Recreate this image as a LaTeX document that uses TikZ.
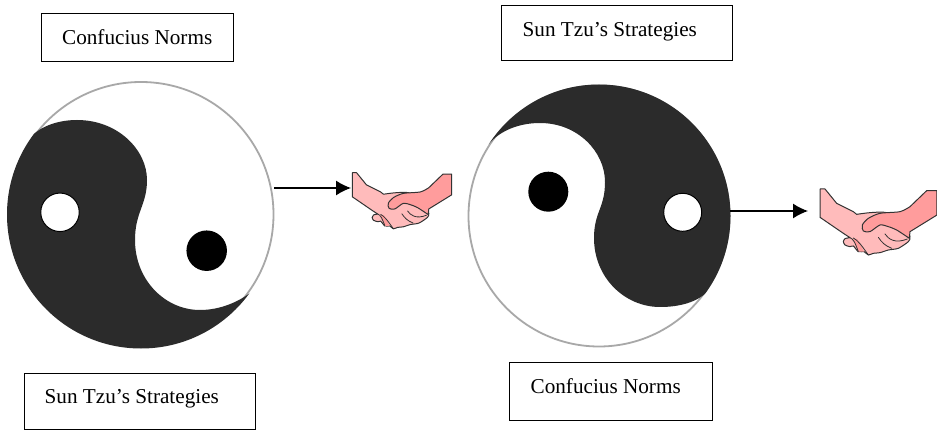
\documentclass[tikz,border=0pt]{standalone}
\usepackage{fontspec}
\setmainfont{Liberation Serif}
\usetikzlibrary{arrows.meta}
\definecolor{yyd}{HTML}{2B2B2B}
\definecolor{ring}{HTML}{A8A8A8}
\definecolor{skinl}{HTML}{FFBBBB}
\definecolor{skind}{HTML}{FF9C9C}
\definecolor{skinline}{HTML}{333333}
\tikzset{
  x=1pt,y=-1pt,
  labelbox/.style={draw=black,line width=1.3pt,inner sep=0pt,font=\fontsize{21.2pt}{24pt}\selectfont,anchor=north west},
  disc/.style={circle,minimum size=#1,inner sep=0pt},
  link/.style={-{Latex[length=15pt,width=15pt]},line width=1.3pt},
  skinA/.style={fill=skinl,draw=skinline,line width=1pt,line join=round},
  skinB/.style={fill=skind,draw=skinline,line width=1pt,line join=round},
  fingerline/.style={draw=skinline,line width=.8pt,line cap=round},
  pics/shake/.style={code={
    \begin{scope}[x=0.3333pt,y=-0.3333pt]
    \draw[skinA] (0,85) -- (0,0) -- (15,0) -- (50,43) -- (100,68) -- plot[smooth,tension=.4] coordinates {(110,76)(150,71)(200,71)(250,105)(270,143)(265,158)(235,178)(205,183)(180,191)(160,193)(145,198)(132,188)(115,188)(100,171)(90,173)(75,168)(70,158)(75,149)(90,146)} -- (70,133) -- cycle;
    \fill[skind] (100,150) -- (115,188) -- (132,188) -- (112,150) -- cycle;
    \draw[skinB] (320,5) -- (351,5) -- (351,78) -- (270,128) -- plot[smooth,tension=.45] coordinates {(268,148)(230,123)(205,113)(180,108)(150,128)(130,126)(127,108)(145,88)(180,73)(240,68)(270,53)} -- cycle;
    \draw[fingerline] (90,146) .. controls (100,150) and (105,160) .. (115,188);
    \draw[fingerline] (100,147) .. controls (115,155) and (125,170) .. (145,198);
    \draw[fingerline] (175,145) .. controls (185,160) and (195,170) .. (215,178);
    \draw[fingerline] (195,135) .. controls (205,150) and (225,165) .. (262,150);
    \end{scope}
  }}
}
\begin{document}
\begin{tikzpicture}
\useasboundingbox (0,0) rectangle (937,430);
\fill[white] (0,0) rectangle (937,430);
% left taijitu
\node[disc=265pt,draw=ring,line width=1.8pt] (ringL) at (141,214.5) {};
\begin{scope}
\clip (141,214.5) circle[radius=134];
\fill[yyd] (28,140) .. controls (38,127) and (57,120) .. (77,120)
  .. controls (118,120) and (147,150) .. (147,180)
  .. controls (147,205) and (135,212) .. (135,240)
  .. controls (135,280) and (165,310) .. (200,310)
  .. controls (220,310) and (238,302) .. (250,293)
  -- (300,400) -- (-20,400) -- (-20,100) -- cycle;
\end{scope}
\node[disc=38.5pt,draw=black,fill=white,line width=1pt] (dotLa) at (60,212.3) {};
\node[disc=40.5pt,fill=black] (dotLb) at (206.7,250.7) {};
% right taijitu
\node[disc=261pt,draw=ring,line width=1.8pt] (ringR) at (599,216) {};
\begin{scope}
\clip (599,216) circle[radius=131.5];
\fill[yyd] (488,145) .. controls (500,130) and (520,123) .. (540,123)
  .. controls (578,123) and (605,152) .. (605,182)
  .. controls (605,208) and (594,212) .. (594,238)
  .. controls (594,278) and (625,307) .. (660,307)
  .. controls (680,307) and (697,302) .. (707,292)
  -- (780,300) -- (780,20) -- (450,20) -- (450,120) -- cycle;
\end{scope}
\node[disc=38pt,draw=black,fill=white,line width=1pt] (dotRa) at (682.7,212.3) {};
\node[disc=40pt,fill=black] (dotRb) at (548.3,191.7) {};
% boxes
\node[labelbox,text height=31pt,text depth=17pt] (boxA) at (40.5,13) {\makebox[192.5pt][l]{\hspace*{21pt}Confucius Norms}};
\node[labelbox,text height=30pt,text depth=26pt] (boxB) at (24,373) {\makebox[231pt][l]{\hspace*{20pt}Sun Tzu’s Strategies}};
\node[labelbox,text height=31pt,text depth=24pt] (boxC) at (501,5) {\makebox[231pt][l]{\hspace*{21pt}Sun Tzu’s Strategies}};
\node[labelbox,text height=31pt,text depth=27pt] (boxD) at (509,362) {\makebox[203pt][l]{\hspace*{21pt}Confucius Norms}};
% hands
\pic (handL) at (352.3,172.7) [scale=.85] {shake};
\pic (handR) at (820,189) {shake};
\coordinate (endL) at (351,188);
\coordinate (endR) at (808,211);
\draw[link] (ringL.east |- endL) -- (endL);
\draw[link] (ringR.east |- endR) -- (endR);
\end{tikzpicture}
\end{document}
